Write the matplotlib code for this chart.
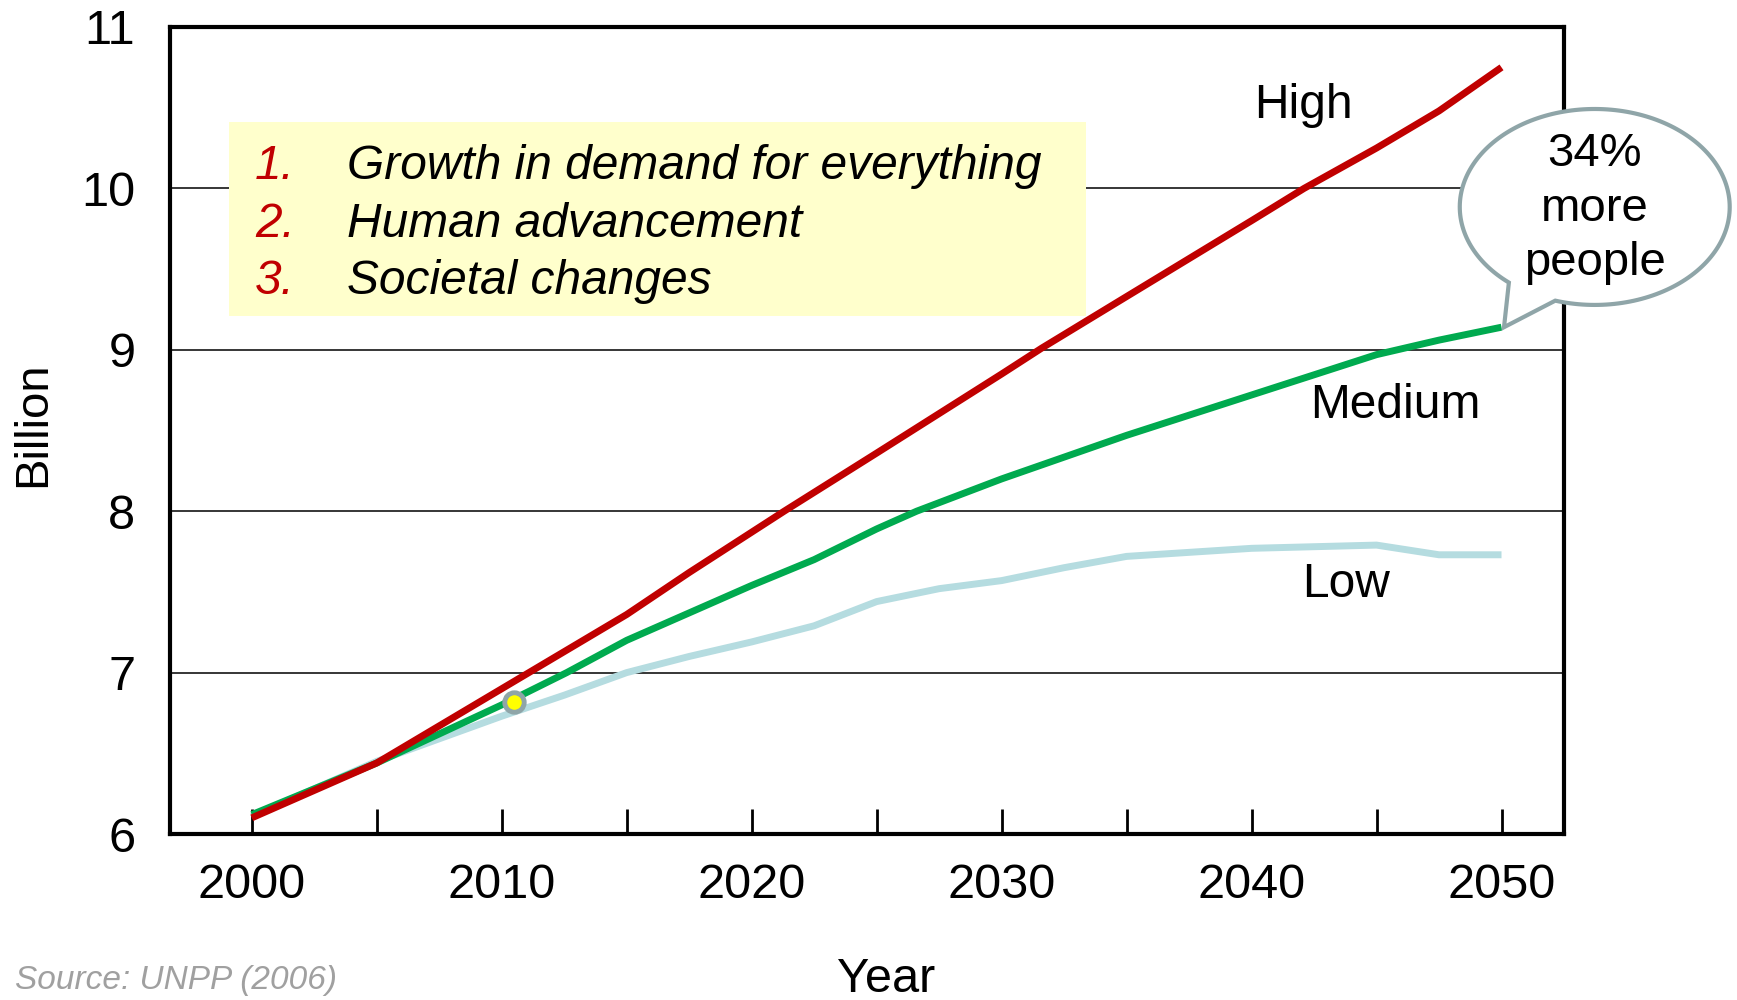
import numpy as np
import matplotlib
matplotlib.use("Agg")
import matplotlib.pyplot as plt
from matplotlib.patches import Rectangle, PathPatch
from matplotlib.path import Path

plt.rcParams['font.family'] = ['Liberation Sans', 'DejaVu Sans']

# ---- data ----
high_years = [2000, 2005, 2010, 2015, 2017.5, 2020, 2021.3, 2025, 2030, 2031.6,
              2035, 2040, 2042.1, 2045, 2047.5, 2050]
high = [6.10, 6.44, 6.90, 7.36, 7.62, 7.87, 8.00, 8.36, 8.85, 9.01,
        9.33, 9.80, 10.00, 10.25, 10.48, 10.75]
medium_years = [2000, 2005, 2010, 2012.6, 2015, 2017.5, 2020, 2022.5, 2025, 2026.6,
                2030, 2035, 2040, 2045, 2047.5, 2050]
medium = [6.12, 6.44, 6.80, 7.00, 7.20, 7.37, 7.54, 7.70, 7.89, 8.00,
          8.20, 8.47, 8.72, 8.97, 9.06, 9.14]
low_years = [2000, 2005, 2007.5, 2010, 2012.5, 2015, 2017.5, 2020, 2022.5, 2025,
             2027.5, 2030, 2032.5, 2035, 2040, 2045, 2047.5, 2050]
low = [6.11, 6.45, 6.59, 6.73, 6.86, 7.00, 7.10, 7.19, 7.29, 7.44,
       7.52, 7.57, 7.65, 7.72, 7.77, 7.79, 7.73, 7.73]
series_labels = ["High", "Medium", "Low"]
legend_items = ["Growth in demand for everything", "Human advancement", "Societal changes"]
callout_text = "34%\nmore\npeople"
marker_year, marker_val = 2010.5, 6.82
yticks = [6, 7, 8, 9, 10, 11]

RED = "#C00000"
GREEN = "#00AA4F"
LOW = "#B5DCE0"
BUBBLE = "#8FA5A8"

fig = plt.figure(figsize=(17.37, 10), dpi=100)
ax = fig.add_axes([0.0979, 0.166, 0.8025, 0.807])
ax.set_xlim(1996.73, 2052.5)
ax.set_ylim(6, 11)

for v in yticks[1:-1]:
    ax.axhline(v, color="black", lw=1.1, zorder=1)

ax.plot(low_years, low, color=LOW, lw=5, solid_capstyle="butt", zorder=3)
ax.plot(medium_years, medium, color=GREEN, lw=5, solid_capstyle="butt", zorder=4)
ax.plot(high_years, high, color=RED, lw=5, solid_capstyle="butt", zorder=5)

ax.plot([marker_year], [marker_val], marker="o", ms=14, mfc="#FFFF00",
        mec=BUBBLE, mew=3.5, zorder=6)

for s in ax.spines.values():
    s.set_linewidth(3)
    s.set_color("black")

ax.set_xticks(list(range(2000, 2051, 5)))
ax.set_xticklabels([str(y) if y % 10 == 0 else "" for y in range(2000, 2051, 5)])
ax.tick_params(axis="x", direction="in", length=18, width=2, labelsize=35, pad=21)
ax.set_yticks(yticks)
ax.set_yticklabels([str(v) for v in yticks])
ax.tick_params(axis="y", length=0, labelsize=35, pad=25)

fig.text(33 / 1737, 1 - 424 / 1000, "Billion", fontsize=34, rotation=90,
         ha="center", va="center")
fig.text(886 / 1737, 1 - 980 / 1000, "Year", fontsize=35, ha="center", va="center")
fig.text(15 / 1737, 0.004, "Source: UNPP (2006)", fontsize=24,
         style="italic", color="#A0A0A0", ha="left", va="bottom")

# series labels
ax.text(2042.09, 10.515, series_labels[0], fontsize=34.5, ha="center", va="center")
ax.text(2045.76, 8.655, series_labels[1], fontsize=34.5, ha="center", va="center")
ax.text(2043.8, 7.543, series_labels[2], fontsize=34.5, ha="center", va="center")

# yellow legend box
ax.add_patch(Rectangle((1999.09, 9.21), 2033.37 - 1999.09, 10.41 - 9.21,
                       facecolor="#FFFFCC", edgecolor="none", zorder=2))
rows_y = [10.133, 9.778, 9.423]
for i, (txt, yy) in enumerate(zip(legend_items, rows_y)):
    ax.text(2000.13, yy, f"{i + 1}.", color=RED, fontsize=34.5, style="italic",
            ha="left", va="center", zorder=7)
    ax.text(2003.81, yy, txt, color="black", fontsize=34.5, style="italic",
            ha="left", va="center", zorder=7)

# callout bubble
cx, cy, rx, ry = 2053.73, 9.885, 5.4, 0.607
tip = (2050.1, 9.14)
t1, t2 = np.deg2rad(253), np.deg2rad(230.5)
ts = np.linspace(t1, t2 + 2 * np.pi, 200)
pts = [(cx + rx * np.cos(t), cy + ry * np.sin(t)) for t in ts]
pts.append(tip)
pts.append(pts[0])
codes = [Path.MOVETO] + [Path.LINETO] * (len(pts) - 2) + [Path.CLOSEPOLY]
bubble = PathPatch(Path(pts, codes), facecolor="white", edgecolor=BUBBLE,
                   lw=3, zorder=8, clip_on=False)
ax.add_patch(bubble)
ax.text(cx, cy - 0.01, callout_text, fontsize=34, ha="center", va="center",
        linespacing=1.3, zorder=9, clip_on=False)

fig.savefig("out.png", dpi=100)
